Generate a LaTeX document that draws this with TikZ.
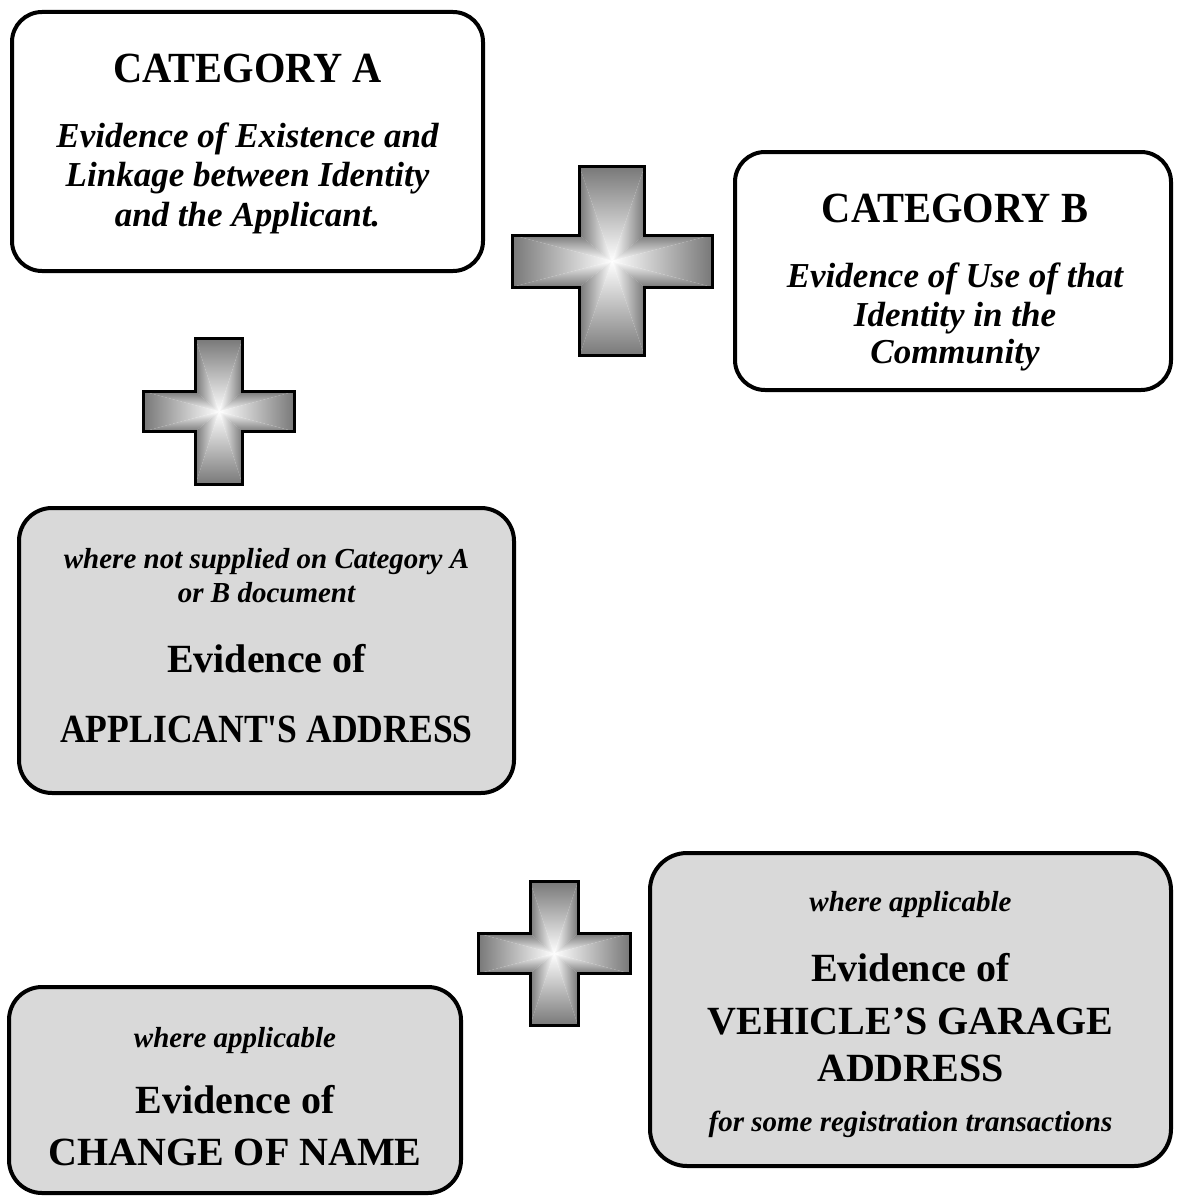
\documentclass[tikz,border=0pt]{standalone}
\usepackage{fontspec}
\setmainfont{Liberation Serif}
\usepackage{graphicx}
\definecolor{boxgray}{HTML}{D9D9D9}
\definecolor{crossgray}{HTML}{787878}
\begin{document}
\begin{tikzpicture}[x=1pt,y=-1pt,line join=miter,
	box/.style={line width=4pt,rounded corners=30pt},
	head/.style={anchor=base,inner sep=0pt,font=\fontsize{43}{48}\selectfont\bfseries},
	big/.style={anchor=base,inner sep=0pt,font=\fontsize{40}{46}\selectfont\bfseries},
	sub/.style={anchor=base,inner sep=0pt,font=\fontsize{35}{40}\selectfont\bfseries\itshape},
	note/.style={anchor=base,inner sep=0pt,font=\fontsize{29}{34}\selectfont\bfseries\itshape},
	sT/.style={top color=crossgray,bottom color=white},
	sB/.style={top color=white,bottom color=crossgray},
	sL/.style={left color=crossgray,right color=white},
	sR/.style={left color=white,right color=crossgray}]
	\useasboundingbox (0,0) rectangle (1177,1199) ;
	% boxes
	\draw[box,fill=white] (12,12) rectangle (483,271) ;
	\draw[box,fill=white] (735,152) rectangle (1171,390) ;
	\draw[box,fill=boxgray,rounded corners=33pt] (19,508) rectangle (514,793) ;
	\draw[box,fill=boxgray,rounded corners=37pt] (650,853) rectangle (1171,1166) ;
	\draw[box,fill=boxgray,rounded corners=33pt] (9,987) rectangle (461,1193) ;
	% plus signs
	\foreach \cx/\cy/\a/\b/\v/\h in {612/261/100/94.5/32.5/26,219/411.5/75.5/73/23.5/20,554/953.5/76/72/24/20} {
		\coordinate (c) at (\cx,\cy) ;
		\coordinate (p1) at (\cx-\v,\cy-\b) ; \coordinate (p2) at (\cx+\v,\cy-\b) ;
		\coordinate (p3) at (\cx+\v,\cy-\h) ; \coordinate (p4) at (\cx+\a,\cy-\h) ;
		\coordinate (p5) at (\cx+\a,\cy+\h) ; \coordinate (p6) at (\cx+\v,\cy+\h) ;
		\coordinate (p7) at (\cx+\v,\cy+\b) ; \coordinate (p8) at (\cx-\v,\cy+\b) ;
		\coordinate (p9) at (\cx-\v,\cy+\h) ; \coordinate (p10) at (\cx-\a,\cy+\h) ;
		\coordinate (p11) at (\cx-\a,\cy-\h) ; \coordinate (p12) at (\cx-\v,\cy-\h) ;
		\foreach \i/\j/\s in {1/2/sT,2/3/sR,3/4/sT,4/5/sR,5/6/sB,6/7/sR,7/8/sB,8/9/sL,9/10/sB,10/11/sL,11/12/sT,12/1/sL}
			\shade[\s] (c)--(p\i)--(p\j)--cycle ;
		\draw[line width=3pt] (p1)--(p2)--(p3)--(p4)--(p5)--(p6)--(p7)--(p8)--(p9)--(p10)--(p11)--(p12)--cycle ;
	}
	% category A
	\node[head] (catA) at (247.5,82) {\scalebox{0.94}[1]{CATEGORY A}} ;
	\node[sub] (catA1) at (247.5,147) {Evidence of Existence and} ;
	\node[sub] (catA2) at (247.5,186) {Linkage between Identity} ;
	\node[sub] (catA3) at (247.5,226) {and the Applicant.} ;
	% category B
	\node[head] (catB) at (955,222) {\scalebox{0.94}[1]{CATEGORY B}} ;
	\node[sub] (catB1) at (955,287) {Evidence of Use of that} ;
	\node[sub] (catB2) at (955,326) {Identity in the} ;
	\node[sub] (catB3) at (955,363) {Community} ;
	% address
	\node[note] (adr1) at (266.5,568) {where not supplied on Category A} ;
	\node[note] (adr2) at (266.5,602) {or B document} ;
	\node[big] (adr3) at (266.5,672) {Evidence of} ;
	\node[big] (adr4) at (266.5,742) {\scalebox{0.89}[1]{APPLICANT\textquotesingle S ADDRESS}} ;
	% garage address
	\node[note] (gar1) at (910.5,911) {where applicable} ;
	\node[big] (gar2) at (910.5,981) {Evidence of} ;
	\node[big] (gar3) at (910.5,1034) {VEHICLE’S GARAGE} ;
	\node[big] (gar4) at (910.5,1081) {ADDRESS} ;
	\node[note] (gar5) at (910.5,1131) {for some registration transactions} ;
	% change of name
	\node[note] (chn1) at (235,1047) {where applicable} ;
	\node[big] (chn2) at (235,1113) {Evidence of} ;
	\node[big] (chn3) at (235,1165) {CHANGE OF NAME} ;
\end{tikzpicture}
\end{document}
